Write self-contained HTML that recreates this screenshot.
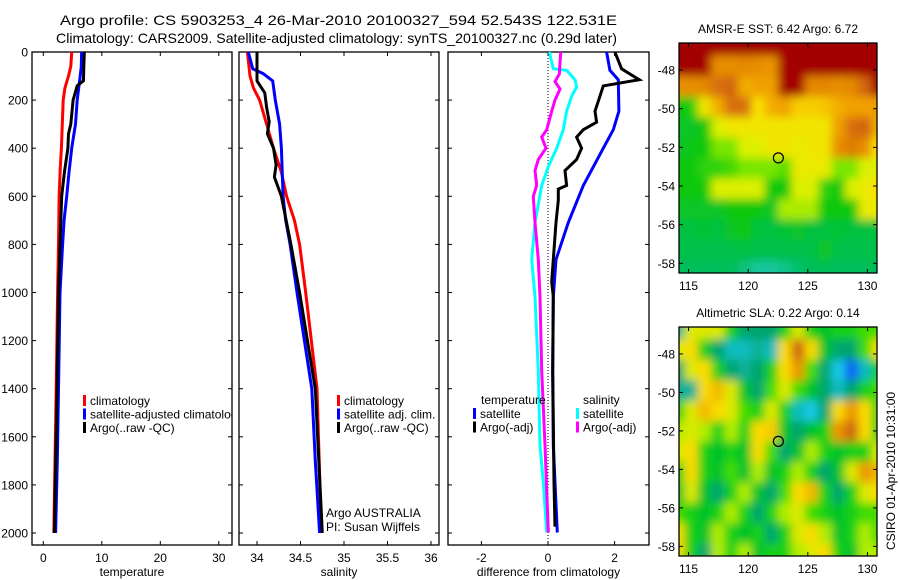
<!DOCTYPE html>
<html><head><meta charset="utf-8">
<style>
html,body{margin:0;padding:0;background:#fff;}
svg{display:block;font-family:"Liberation Sans",sans-serif;}
</style></head>
<body>
<svg id="fig" width="900" height="580" viewBox="0 0 900 580">
<defs>
<filter id="blur" filterUnits="userSpaceOnUse" x="600" y="0" width="300" height="600"><feGaussianBlur stdDeviation="4.5"/></filter>
<clipPath id="clipSST"><rect x="679" y="43" width="198" height="230"/></clipPath>
<clipPath id="clipSLA"><rect x="679" y="327" width="198" height="229"/></clipPath>
<clipPath id="clipP1"><rect x="32" y="52" width="200" height="493"/></clipPath>
</defs>
<text x="60" y="25" font-size="14" textLength="557" lengthAdjust="spacingAndGlyphs">Argo profile: CS 5903253_4 26-Mar-2010 20100327_594 52.543S 122.531E</text>
<text x="56" y="43" font-size="14" textLength="561" lengthAdjust="spacingAndGlyphs">Climatology: CARS2009. Satellite-adjusted climatology: synTS_20100327.nc (0.29d later)</text>
<g id="plots"></g>
<text transform="translate(895,550) rotate(-90)" font-size="12">CSIRO 01-Apr-2010 10:31:00</text>
</svg>
<script>
// ---- depth axis ----
const depthTicks=[0,200,400,600,800,1000,1200,1400,1600,1800,2000];
// ---- temperature panel ----
const tTicks=[0,10,20,30];
const tDepthClim=[0,60,100,150,200,300,400,480,600,800,1000,1400,1700,2000];
const tClim=[4.85,4.7,4.3,3.7,3.4,3.25,3.1,2.9,2.7,2.6,2.45,2.2,2.0,1.8];
const tDepthSat=[0,60,100,200,300,400,500,600,700,800,1000,1400,1700,2000];
const tSat=[6.55,6.5,6.3,5.8,5.5,4.85,4.4,4.0,3.55,3.3,2.85,2.6,2.4,2.1];
const tDepthArgo=[0,120,140,200,300,340,400,500,600,800,1000,1400,2000];
const tArgo=[7.0,6.85,5.8,5.1,4.7,4.3,4.2,3.6,3.15,2.85,2.6,2.35,1.9];
// ---- salinity panel ----
const sTicks=[34,34.5,35,35.5,36];
const sDepthClim=[0,100,150,200,300,400,500,600,700,800,1000,1400,2000];
const sClim=[33.89,33.92,33.96,34.03,34.11,34.19,34.28,34.34,34.43,34.49,34.56,34.69,34.74];
const sDepthSat=[0,70,90,120,200,300,400,600,700,800,1000,1400,1700,2000];
const sSat=[33.90,33.95,34.07,34.18,34.21,34.26,34.28,34.30,34.33,34.38,34.46,34.63,34.67,34.72];
const sDepthArgo=[0,120,170,230,290,340,400,470,520,570,600,800,1000,1400,2000];
const sArgo=[34.0,34.0,34.09,34.11,34.14,34.12,34.19,34.22,34.20,34.25,34.28,34.39,34.49,34.67,34.75];
// ---- difference panel ----
const dTicks=[-2,0,2];
const dDepthTS=[0,76,115,246,323,400,555,709,863,1017,1326,1635,1998];
const dTSat=[1.76,1.86,2.11,2.13,1.96,1.66,1.06,0.61,0.24,0.16,0.14,0.16,0.28];
const dDepthTA=[0,70,115,141,184,246,292,323,354,400,447,493,555,570,617,709,863,956,1017,1326,1789,1974];
const dTArgo=[2.01,2.21,2.74,1.66,1.56,1.41,1.46,1.06,0.86,1.01,0.86,0.51,0.56,0.31,0.31,0.24,0.16,0.11,0.16,0.14,0.18,0.21];
const dDepthSS=[0,70,76,115,146,184,246,323,400,477,555,709,863,1017,1326,1635,1789,1998];
const dSSat=[0.04,0.16,0.56,0.81,0.86,0.71,0.56,0.46,0.26,0.01,-0.19,-0.39,-0.49,-0.39,-0.29,-0.24,-0.14,-0.04];
const dDepthSA=[0,92,123,154,200,246,323,354,400,447,493,555,600,709,863,1017,1326,1635,1998];
const dSArgo=[0.38,0.34,0.21,0.36,0.21,0.11,-0.04,-0.19,-0.06,-0.29,-0.39,-0.34,-0.44,-0.39,-0.29,-0.24,-0.19,-0.09,0.01];
// ---- maps ----
const mapLonTicks=[115,120,125,130];
const mapLatTicks=[48,50,52,54,56,58];
const sstGrid=[
[0.95,0.95,0.95,0.95,0.95,0.95,0.95,0.95,0.95,0.95,0.95,0.95,0.95,0.95,0.95,0.95],
[0.95,0.95,0.93,0.75,0.75,0.76,0.75,0.74,0.9,0.95,0.95,0.95,0.95,0.95,0.95,0.95],
[0.75,0.75,0.76,0.8,0.82,0.7,0.72,0.72,0.9,0.92,0.76,0.76,0.75,0.76,0.82,0.95],
[0.3,0.32,0.6,0.7,0.8,0.8,0.62,0.7,0.72,0.65,0.65,0.66,0.7,0.72,0.72,0.72],
[0.25,0.25,0.3,0.55,0.6,0.6,0.6,0.6,0.6,0.6,0.6,0.6,0.72,0.8,0.82,0.7],
[0.25,0.28,0.3,0.45,0.45,0.55,0.55,0.6,0.6,0.58,0.6,0.6,0.75,0.78,0.75,0.62],
[0.3,0.3,0.35,0.35,0.38,0.45,0.45,0.45,0.4,0.58,0.58,0.58,0.45,0.45,0.55,0.55],
[0.3,0.3,0.3,0.55,0.55,0.55,0.55,0.3,0.3,0.55,0.55,0.35,0.3,0.55,0.58,0.62],
[0.25,0.25,0.25,0.25,0.3,0.3,0.3,0.25,0.5,0.5,0.5,0.3,0.3,0.3,0.58,0.58],
[0.2,0.2,0.22,0.2,0.25,0.3,0.2,0.2,0.22,0.25,0.2,0.2,0.22,0.2,0.2,0.2],
[0.18,0.18,0.18,0.18,0.18,0.2,0.18,0.18,0.18,0.18,0.18,0.25,0.18,0.18,0.18,0.18],
[0.15,0.15,0.15,0.15,0.15,0.1,0.05,0.05,0.08,0.12,0.15,0.15,0.15,0.15,0.15,0.15]];
const slaGrid=[
[0.25,0.65,0.65,0.65,0.45,0.3,0.3,0.3,0.45,0.65,0.45,0.4,0.45,0.45,0.5,0.5],
[0.65,0.7,0.45,0.3,0.2,0.2,0.25,0.2,0.7,0.88,0.7,0.4,0.3,0.3,0.5,0.7],
[0.3,0.65,0.7,0.45,0.3,0.25,0.3,0.45,0.7,0.8,0.5,0.3,0.15,0.05,0.2,0.45],
[0.25,0.25,0.7,0.75,0.65,0.4,0.3,0.5,0.65,0.5,0.4,0.3,0.2,0.3,0.45,0.5],
[0.45,0.65,0.75,0.7,0.65,0.5,0.45,0.65,0.45,0.2,0.15,0.3,0.7,0.8,0.7,0.45],
[0.6,0.65,0.6,0.45,0.6,0.45,0.7,0.72,0.4,0.3,0.4,0.45,0.8,0.88,0.7,0.45],
[0.65,0.7,0.45,0.4,0.45,0.4,0.7,0.5,0.3,0.4,0.6,0.45,0.4,0.45,0.45,0.65],
[0.45,0.7,0.45,0.4,0.5,0.4,0.6,0.4,0.45,0.6,0.45,0.3,0.4,0.65,0.8,0.75],
[0.4,0.65,0.4,0.3,0.45,0.6,0.4,0.3,0.5,0.7,0.75,0.45,0.3,0.45,0.65,0.7],
[0.5,0.45,0.4,0.45,0.6,0.45,0.3,0.45,0.6,0.65,0.5,0.45,0.4,0.45,0.5,0.5],
[0.7,0.45,0.4,0.6,0.45,0.4,0.45,0.3,0.45,0.65,0.7,0.6,0.4,0.45,0.6,0.5],
[0.7,0.45,0.3,0.6,0.45,0.6,0.4,0.45,0.45,0.6,0.65,0.7,0.45,0.4,0.6,0.6]];
const argoLon=122.531, argoLat=52.543;

const NS='http://www.w3.org/2000/svg';
const root=document.getElementById('plots');
function mk(tag,attrs,parent){const e=document.createElementNS(NS,tag);for(const k in attrs)e.setAttribute(k,attrs[k]);(parent||root).appendChild(e);return e;}
const Y0=52,Y1=545;
const yD=d=>Y0+d*0.2405;

function panel(name,x0,x1,xs,ticks,tickFmt,title,leftLabels){
  const g=mk('g',{});
  
  
  const fr=mk('rect',{x:x0,y:Y0,width:x1-x0,height:Y1-Y0,fill:'none',stroke:'#000','stroke-width':1.3},g);
  
  
  depthTicks.forEach(d=>{
    const y=yD(d);
    mk('line',{x1:x0,x2:x0+4,y1:y,y2:y,stroke:'#000'},g);
    mk('line',{x1:x1-4,x2:x1,y1:y,y2:y,stroke:'#000'},g);
    if(leftLabels){const t=mk('text',{x:x0-4,y:y+4.5,'font-size':12,'text-anchor':'end'},g);t.textContent=d;
      
      }
  });
  ticks.forEach(v=>{
    const x=xs(v);
    mk('line',{x1:x,x2:x,y1:Y1,y2:Y1-4,stroke:'#000'},g);
    mk('line',{x1:x,x2:x,y1:Y0,y2:Y0+4,stroke:'#000'},g);
    const t=mk('text',{x:x,y:562,'font-size':12,'text-anchor':'middle'},g);t.textContent=tickFmt(v);
    
    
  });
  const tt=mk('text',{x:(x0+x1)/2,y:576,'font-size':12,'text-anchor':'middle'},g);tt.textContent=title;
  
  
  return g;
}
function line(g,name,xs,depths,vals,color,w){
  const pts=vals.map((v,i)=>xs(v).toFixed(1)+','+yD(depths[i]).toFixed(1)).join(' ');
  const p=mk('polyline',{points:pts,fill:'none',stroke:color,'stroke-width':w||3,'stroke-linejoin':'miter'},g);
  
  
}
function legend(g,x,y,items){
  items.forEach((it,i)=>{
    const yy=y+i*13.5;
    mk('rect',{x:x,y:yy-9,width:3,height:11,fill:it[1]},g);
    const t=mk('text',{x:x+7,y:yy+1,'font-size':12},g);t.textContent=it[0];
    
    
  });
}
// temperature
const xT=v=>43.3+v*5.85;
const gT=panel('temperature-panel',32,232,xT,tTicks,v=>v,'temperature',true);
line(gT,'temperature-climatology-line',xT,tDepthClim,tClim,'#f00');
line(gT,'temperature-satellite-line',xT,tDepthSat,tSat,'#00f');
line(gT,'temperature-argo-line',xT,tDepthArgo,tArgo,'#000');
const gTL=mk('g',{'clip-path':'url(#clipP1)'},gT);
legend(gTL,83,404,[['climatology','#f00'],['satellite-adjusted climatology','#00f'],['Argo(..raw -QC)','#000']]);
// salinity
const xS=v=>257+(v-34)*87;
const gS=panel('salinity-panel',239,439,xS,sTicks,v=>v,'salinity',false);
line(gS,'salinity-climatology-line',xS,sDepthClim,sClim,'#f00');
line(gS,'salinity-satellite-line',xS,sDepthSat,sSat,'#00f');
line(gS,'salinity-argo-line',xS,sDepthArgo,sArgo,'#000');
legend(gS,337,404,[['climatology','#f00'],['satellite adj. clim.','#00f'],['Argo(..raw -QC)','#000']]);
[['Argo AUSTRALIA',517],['PI: Susan Wijffels',531]].forEach(a=>{const t=mk('text',{x:326,y:a[1],'font-size':12},gS);t.textContent=a[0];
  
  });
// difference
const xDf=v=>548+v*33.3;
const gD=panel('difference-panel',448,649,xDf,dTicks,v=>v,'difference from climatology',false);
mk('line',{x1:xDf(0),x2:xDf(0),y1:Y0,y2:Y1,stroke:'#000','stroke-dasharray':'1,2','stroke-width':1},gD);
line(gD,'salinity-satellite-diff-line',xDf,dDepthSS,dSSat,'#0ff');
line(gD,'salinity-argo-diff-line',xDf,dDepthSA,dSArgo,'#f0f');
line(gD,'temperature-satellite-diff-line',xDf,dDepthTS,dTSat,'#00f');
line(gD,'temperature-argo-diff-line',xDf,dDepthTA,dTArgo,'#000');
{const t=mk('text',{x:481,y:404,'font-size':12},gD);t.textContent='temperature';
 
 
 const t2=mk('text',{x:583,y:404,'font-size':12},gD);t2.textContent='salinity';
 
 }
legend(gD,473,417,[['satellite','#00f'],['Argo(-adj)','#000']]);
legend(gD,576,417,[['satellite','#0ff'],['Argo(-adj)','#f0f']]);

// maps
function lerpC(stops,v){
  v=Math.max(0,Math.min(1,v));
  for(let i=1;i<stops.length;i++){if(v<=stops[i][0]){const a=stops[i-1],b=stops[i];const t=(v-a[0])/(b[0]-a[0]);
    const c=[0,1,2].map(k=>Math.round(a[1][k]+(b[1][k]-a[1][k])*t));return 'rgb('+c.join(',')+')';}}
  return 'rgb('+stops[stops.length-1][1].join(',')+')';
}
const sstStops=[[0,[30,200,190]],[0.15,[0,190,90]],[0.3,[10,200,10]],[0.45,[120,230,0]],[0.55,[220,240,0]],[0.62,[250,225,0]],[0.72,[240,160,0]],[0.82,[210,100,10]],[0.9,[165,0,0]],[1,[160,0,0]]];
const slaStops=[[0,[0,50,255]],[0.15,[20,200,230]],[0.3,[0,165,110]],[0.42,[0,200,30]],[0.52,[80,225,0]],[0.62,[200,240,0]],[0.7,[250,220,0]],[0.8,[235,150,0]],[0.9,[200,90,20]],[1,[180,50,20]]];
function map(name,y0,h,grid,stops,title,argoTxt){
  const x0=679,w=198;
  const g=mk('g',{});
  
  
  const lonX=lon=>x0+(lon-114.2)*(w/16.6);
  const latY=lat=>y0+(lat-46.6)*(h/11.9);
  const cg=mk('g',{'clip-path':'url(#'+(name==='sst-map'?'clipSST':'clipSLA')+')'},g);
  const bg=mk('g',{filter:'url(#blur)'},cg);
  const nr=grid.length,nc=grid[0].length;
  const cw=(w+16)/nc,ch=(h+16)/nr;
  grid.forEach((row,r)=>row.forEach((v,c)=>{
    const cell=mk('rect',{x:x0-8+c*cw,y:y0-8+r*ch,width:cw+0.5,height:ch+0.5,fill:lerpC(stops,v)},bg);
    
    
  }));
  mk('rect',{x:x0,y:y0,width:w,height:h,fill:'none',stroke:'#000','stroke-width':1.3},g);
  mapLatTicks.forEach(l=>{const y=latY(l);
    mk('line',{x1:x0,x2:x0+4,y1:y,y2:y,stroke:'#000'},g);mk('line',{x1:x0+w-4,x2:x0+w,y1:y,y2:y,stroke:'#000'},g);
    const t=mk('text',{x:x0-4,y:y+4.5,'font-size':12,'text-anchor':'end'},g);t.textContent='-'+l;
    
    });
  mapLonTicks.forEach(l=>{const x=lonX(l);
    mk('line',{x1:x,x2:x,y1:y0+h,y2:y0+h-4,stroke:'#000'},g);mk('line',{x1:x,x2:x,y1:y0,y2:y0+4,stroke:'#000'},g);
    const t=mk('text',{x:x,y:y0+h+17,'font-size':12,'text-anchor':'middle'},g);t.textContent=l;
    
    });
  const c=mk('ellipse',{cx:lonX(argoLon),cy:latY(argoLat),rx:5,ry:5,fill:'none',stroke:'#000','stroke-width':1.2},g);
  
  
  const t=mk('text',{x:x0+w/2,y:y0-10,'font-size':12,'text-anchor':'middle'},g);t.textContent=title;
  
  
}
map('sst-map',43,230,sstGrid,sstStops,'AMSR-E SST: 6.42 Argo: 6.72');
map('sla-map',327,229,slaGrid,slaStops,'Altimetric SLA: 0.22 Argo: 0.14');
</script>
</body></html>
